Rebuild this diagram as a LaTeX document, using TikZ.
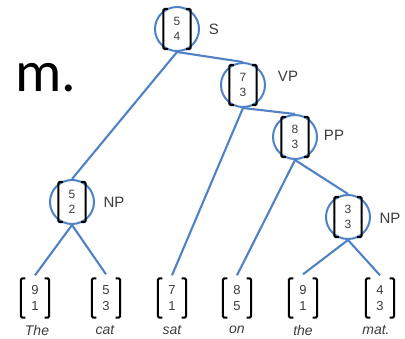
\documentclass[tikz,border=0pt]{standalone}
\usepackage{fontspec}
\setmainfont{Liberation Sans}
\newfontfamily\bigfont{Carlito}
\definecolor{treeblue}{RGB}{79,129,196}
\definecolor{txt}{RGB}{60,60,60}
\begin{document}
\begin{tikzpicture}[x=1pt,y=-1pt,
  vec/.style={minimum width=27pt, minimum height=40pt, inner sep=0pt, align=center,
              font=\fontsize{12}{14.5}\selectfont, text=txt},
  leaf/.style={vec, minimum height=39pt, minimum width=28pt, font=\fontsize{13}{15.5}\selectfont},
  ring/.style={circle, draw=treeblue, line width=2pt, minimum size=44pt, inner sep=0pt},
  edge/.style={draw=treeblue, line width=2.1pt},
  brk/.style={line width=2pt, black, rounded corners=1.5pt},
  lab/.style={font=\fontsize{15}{17}\selectfont, text=txt},
  word/.style={font=\fontsize{14}{16}\selectfont\itshape, text=txt}]
\useasboundingbox (0,0) rectangle (405,338);

\node[font=\bigfont\fontsize{58}{58}\selectfont, text=black] (m) at (46,78) {m.};

% inner vectors
\node[vec] (vS) at (177,29) {5\\4};
\node[vec] (vVP) at (243,85) {7\\3};
\node[vec] (vPP) at (295,137) {8\\3};
\node[vec] (vNP1) at (72,202) {5\\2};
\node[vec] (vNP2) at (348,217) {3\\3};

% leaves
\node[leaf] (l1) at (35,298) {9\\1};
\node[leaf] (l2) at (106,298) {5\\3};
\node[leaf] (l3) at (172,298) {7\\1};
\node[leaf] (l4) at (237,298) {8\\5};
\node[leaf] (l5) at (303,298) {9\\1};
\node[leaf] (l6) at (380,298) {4\\3};

% words
\node[word] (w1) at (37,330) {The};
\node[word] (w2) at (105,330) {cat};
\node[word] (w3) at (172,330) {sat};
\node[word] (w4) at (237,330) {on};
\node[word] (w5) at (303,330) {the};
\node[word] (w6) at (376,330) {mat.};

% rings
\node[ring] (S) at (vS) {};
\node[ring] (VP) at (vVP) {};
\node[ring] (PP) at (vPP) {};
\node[ring] (NP1) at (vNP1) {};
\node[ring] (NP2) at (vNP2) {};

% labels
\node[lab] (tS) at (214,29) {S};
\node[lab] (tVP) at (288,76) {VP};
\node[lab] (tPP) at (334,135) {PP};
\node[lab] (tNP1) at (114,202) {NP};
\node[lab] (tNP2) at (390,218) {NP};

% edges
\draw[edge] (S.south) -- (NP1.north);
\draw[edge] (S.south) -- (VP.north);
\draw[edge] (VP.south) -- ([yshift=3pt]l3.north);
\draw[edge] (VP.south) -- (PP.north);
\draw[edge] (PP.south) -- ([yshift=3pt]l4.north);
\draw[edge] (PP.south) -- (NP2.north);
\draw[edge] (NP1.south) -- ([yshift=3pt]l1.north);
\draw[edge] (NP1.south) -- ([yshift=4pt]l2.north);
\draw[edge] (NP2.south) -- ([yshift=4pt]l5.north);
\draw[edge] (NP2.south) -- ([yshift=3pt]l6.north);

% brackets
\foreach \n in {vS,vVP,vPP,vNP1,vNP2,l1,l2,l3,l4,l5,l6}{
  \draw[brk] ([xshift=4.5pt]\n.north west) -- (\n.north west) -- (\n.south west) -- ([xshift=4.5pt]\n.south west);
  \draw[brk] ([xshift=-4.5pt]\n.north east) -- (\n.north east) -- (\n.south east) -- ([xshift=-4.5pt]\n.south east);
}
\end{tikzpicture}
\end{document}
